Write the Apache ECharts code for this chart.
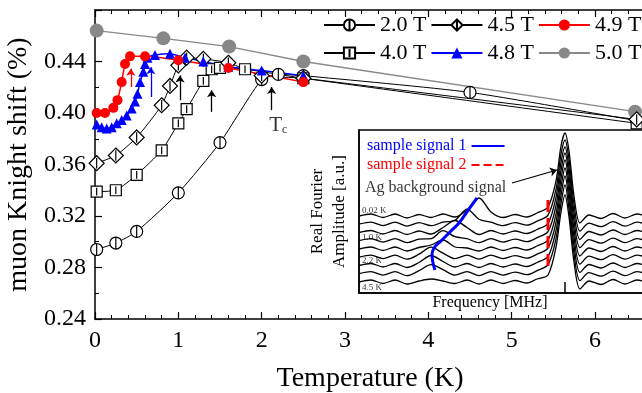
<!DOCTYPE html>
<html>
<head>
<meta charset="utf-8">
<script src="https://cdn.jsdelivr.net/npm/echarts@6.0.0/dist/echarts.min.js"></script>
<style>
  html, body { margin: 0; padding: 0; background: #fff; }
  #chart { width: 642px; height: 393px; }
</style>
</head>
<body>
<div id="chart"></div>
<script>
// main panel: muon Knight shift (%) vs temperature (K)
const t20 = [0.02, 0.25, 0.5, 1.0, 1.5, 2.0, 2.2, 2.5, 4.5, 6.5];
const k20 = [0.294, 0.299, 0.308, 0.338, 0.377, 0.426, 0.430, 0.429, 0.416, 0.394];
const t40 = [0.02, 0.25, 0.5, 0.8, 1.0, 1.1, 1.3, 1.4, 1.5, 1.8, 2.5, 6.5];
const k40 = [0.339, 0.340, 0.352, 0.371, 0.392, 0.403, 0.425, 0.434, 0.435, 0.434, 0.427, 0.392];
const t45 = [0.02, 0.25, 0.5, 0.8, 0.9, 1.0, 1.1, 1.3, 1.6, 2.0, 2.5, 6.5];
const k45 = [0.361, 0.367, 0.381, 0.406, 0.421, 0.437, 0.443, 0.442, 0.439, 0.429, 0.427, 0.395];
const t48 = [0.02, 0.08, 0.14, 0.2, 0.26, 0.32, 0.38, 0.44, 0.48, 0.51, 0.54, 0.58, 0.6, 0.63, 0.72, 0.9, 1.08, 1.3, 1.6, 2.0, 2.5];
const k48 = [0.391, 0.389, 0.388, 0.389, 0.392, 0.3945, 0.398, 0.4035, 0.409, 0.415, 0.424, 0.432, 0.438, 0.443, 0.445, 0.446, 0.443, 0.440, 0.436, 0.433, 0.429];
const t49 = [0.02, 0.12, 0.22, 0.27, 0.32, 0.36, 0.42, 0.6, 1.0, 1.6, 2.5];
const k49 = [0.400, 0.400, 0.404, 0.410, 0.424, 0.438, 0.444, 0.444, 0.441, 0.435, 0.424];
const t50 = [0.02, 0.82, 1.61, 2.5, 6.48];
const k50 = [0.464, 0.458, 0.4516, 0.440, 0.401];

// arrows marking transitions
const arrowT = [0.43, 0.67, 1.02, 1.40, 2.12];
const arrowFrom = [0.4202, 0.4124, 0.4099, 0.4009, 0.4022];
const arrowTo = [0.4344, 0.4356, 0.4292, 0.4176, 0.4202];
const arrowColors = ['#ff0000', '#0000ff', '#000', '#000', '#000'];

// inset: stacked Fourier spectra (frequency in arbitrary units, amplitude a.u.)
const freqGrid = [0, 1.2, 2.4, 3.6, 4.8, 6, 7.2, 8.4, 9.6, 10.8, 12, 13.2, 14.4, 15.6, 16.8, 17.8, 18.9, 19.7, 20.2, 20.6, 21, 21.5, 22.1, 23, 24.2, 25.4, 26.6, 27.8, 29];
const spec0 = [77, 79, 75.5, 79, 75, 78.5, 75.5, 79, 76, 83, 95, 81, 75.5, 78.5, 76, 80, 86, 112, 147, 160, 142, 97, 70, 78, 74.5, 79.5, 75, 79, 76];
const spec1 = [68.8, 70.8, 67.3, 70.8, 66.8, 70.3, 67.3, 70.8, 72.8, 83.8, 73.8, 70.8, 67.3, 70.3, 67.8, 71.8, 77.8, 103.8, 138.8, 153, 133.8, 88.8, 61.8, 69.8, 66.3, 71.3, 66.8, 70.8, 67.8];
const spec2 = [60.5, 62.5, 59, 62.5, 58.5, 62, 59, 65.5, 72.5, 65.5, 58.5, 62.5, 59, 62, 59.5, 63.5, 69.5, 95.5, 130.5, 146, 125.5, 80.5, 53.5, 61.5, 58, 63, 58.5, 62.5, 59.5];
const spec3 = [52.3, 54.3, 50.8, 54.3, 50.3, 53.8, 54.3, 62.3, 56.3, 54.3, 50.3, 54.3, 50.8, 53.8, 51.3, 55.3, 61.3, 87.3, 122.3, 140, 117.3, 72.3, 45.3, 53.3, 49.8, 54.8, 50.3, 54.3, 51.3];
const spec4 = [44, 46, 42.5, 46, 42, 45.5, 48, 53, 46, 45, 42, 46, 42.5, 45.5, 43, 47, 53, 79, 114, 133, 109, 64, 37, 45, 41.5, 46.5, 42, 46, 43];
const spec5 = [35.8, 37.8, 34.3, 37.8, 33.8, 38.8, 45.8, 39.8, 34.3, 37.8, 33.8, 37.8, 34.3, 37.3, 34.8, 38.8, 44.8, 70.8, 105.8, 125, 100.8, 55.8, 28.8, 36.8, 33.3, 38.3, 33.8, 37.8, 34.8];
const spec6 = [27.5, 29.5, 26, 29.5, 25.5, 30.5, 37.5, 31.5, 26, 29.5, 25.5, 29.5, 26, 29, 26.5, 30.5, 36.5, 62.5, 97.5, 117, 92.5, 47.5, 20.5, 28.5, 25, 30, 25.5, 29.5, 26.5];
const spec7 = [19.3, 21.3, 17.8, 21.3, 17.3, 22.3, 28.3, 23.3, 17.8, 21.3, 17.3, 21.3, 17.8, 20.8, 18.3, 22.3, 28.3, 54.3, 89.3, 108, 84.3, 39.3, 12.3, 20.3, 16.8, 21.8, 17.3, 21.3, 18.3];
const spec8 = [11, 13, 9.5, 13, 9, 12, 14, 12, 9.5, 13, 9, 13, 9.5, 12.5, 10, 14, 18, 46, 81, 98, 76, 31, 4, 12, 8.5, 13.5, 9, 13, 10];
const spectra = [spec0, spec1, spec2, spec3, spec4, spec5, spec6, spec7, spec8];

const signal1 = [[11.8, 95], [11.0, 84], [10.0, 70], [9.2, 62], [8.2, 52], [7.5, 45], [7.3, 38], [7.4, 30], [7.6, 23]];
const signal2 = [[18.9, 93], [18.9, 58], [18.9, 23]];
const specLabels = [[0.3, 82, '0.02 K'], [0.3, 55, '1.0 K'], [0.3, 32, '2.2 K'], [0.3, 5, '4.5 K']];

const FONT = 'Liberation Serif';
const zip = (a, b) => a.map((v, i) => [v, b[i]]);

const circleSym = 'path://M0,10A10,10,0,1,1,20,10A10,10,0,1,1,0,10Z M10,1L10,19';
const squareSym = 'path://M0,0L20,0L20,20L0,20Z M10,3L10,17';
const diamondSym = 'path://M10,0L20,10L10,20L0,10Z M10,3L10,17';

const chart = echarts.init(document.getElementById('chart'));

function openSeries(name, data, symbol, size) {
  return {
    name, type: 'line', data, symbol, symbolSize: size, smooth: 0.2,
    xAxisIndex: 0, yAxisIndex: 0,
    lineStyle: { color: '#000', width: 1 },
    itemStyle: { color: '#fff', borderColor: '#000', borderWidth: 1.2 }
  };
}

const specSeries = spectra.map((s, i) => ({
  name: 'spec' + i, type: 'line', xAxisIndex: 1, yAxisIndex: 1,
  data: zip(freqGrid, s), symbol: 'none', smooth: 0.3,
  lineStyle: { color: '#000', width: 1.3 }, z: 3
}));

const legendText = { fontFamily: FONT, fontSize: 22, color: '#000' };

const option = {
  animation: false,
  grid: [
    { left: 95, top: 10, width: 550, height: 309, outerBoundsMode: 'none' },
    { left: 359, top: 130, width: 300, height: 163, show: true, backgroundColor: '#fff',
      borderColor: '#000', borderWidth: 1.5, outerBoundsMode: 'none' }
  ],
  legend: [
    { data: ['2.0 T', '4.5 T', '4.9 T'], left: 323, top: 14, padding: 0, itemWidth: 51, itemHeight: 14,
      itemGap: 4, textStyle: legendText, selectedMode: false },
    { data: ['4.0 T', '4.8 T', '5.0 T'], left: 323, top: 42, padding: 0, itemWidth: 51, itemHeight: 14,
      itemGap: 4, textStyle: legendText, selectedMode: false },
    { data: [
        { name: 'sample signal 1', textStyle: { color: '#0000ff' } },
        { name: 'sample signal 2', textStyle: { color: '#ff0000' } }
      ],
      orient: 'vertical', left: 362, top: 133, align: 'right', itemWidth: 33, itemHeight: 10,
      itemGap: 3, itemStyle: { opacity: 0 }, selectedMode: false, z: 10,
      textStyle: { fontFamily: FONT, fontSize: 16 } }
  ],
  xAxis: [
    { type: 'value', gridIndex: 0, min: 0, max: 6.6, interval: 1,
      name: 'Temperature (K)', nameLocation: 'middle', nameGap: 46,
      nameTextStyle: { fontFamily: FONT, fontSize: 28, color: '#000' },
      axisLine: { lineStyle: { color: '#000', width: 1.5 } },
      axisTick: { inside: true, length: 7, lineStyle: { color: '#000', width: 1.2 } },
      minorTick: { show: true, splitNumber: 5, length: 4, lineStyle: { color: '#000', width: 1 } },
      axisLabel: { fontFamily: FONT, fontSize: 24, color: '#000', margin: 10, showMaxLabel: false },
      splitLine: { show: false } },
    { type: 'value', gridIndex: 1, min: 0, max: 30,
      name: 'Frequency [MHz]', nameLocation: 'middle', nameGap: 2,
      nameTextStyle: { fontFamily: FONT, fontSize: 16, color: '#000', padding: [0, 38, 0, 0] },
      axisLine: { show: true, lineStyle: { color: '#000', width: 1.5 } },
      axisTick: { show: true, inside: true, length: 11, customValues: [20.6], lineStyle: { color: '#000', width: 1.5 } },
      axisLabel: { show: false }, splitLine: { show: false } },
    { type: 'value', gridIndex: 0, min: 0, max: 6.6, interval: 1, position: 'top',
      axisLine: { lineStyle: { color: '#000', width: 1.5 } },
      axisTick: { inside: true, length: 7, lineStyle: { color: '#000', width: 1.2 } },
      minorTick: { show: true, splitNumber: 5, length: 4, lineStyle: { color: '#000', width: 1 } },
      axisLabel: { show: false }, splitLine: { show: false } }
  ],
  yAxis: [
    { type: 'value', gridIndex: 0, min: 0.24, max: 0.48, interval: 0.04,
      name: 'muon Knight shift (%)', nameLocation: 'middle', nameGap: 53,
      nameTextStyle: { fontFamily: FONT, fontSize: 28, color: '#000' },
      axisLine: { show: true, lineStyle: { color: '#000', width: 1.5 } },
      axisTick: { show: true, inside: true, length: 7, lineStyle: { color: '#000', width: 1.2 } },
      minorTick: { show: true, splitNumber: 2, length: 4, lineStyle: { color: '#000', width: 1 } },
      axisLabel: { fontFamily: FONT, fontSize: 24, color: '#000', margin: 9, showMaxLabel: false,
        formatter: v => v.toFixed(2) },
      splitLine: { show: false } },
    { type: 'value', gridIndex: 1, min: 0, max: 163,
      name: 'Real Fourier\nAmplitude [a.u.]', nameLocation: 'middle', nameGap: 8,
      nameTextStyle: { fontFamily: FONT, fontSize: 17, color: '#000', lineHeight: 22 },
      axisLine: { show: true, lineStyle: { color: '#000', width: 1.5 } },
      axisTick: { show: false }, axisLabel: { show: false }, splitLine: { show: false } }
  ],
  series: [
    { name: '5.0 T', type: 'line', data: zip(t50, k50), symbol: 'circle', symbolSize: 14,
      xAxisIndex: 0, yAxisIndex: 0,
      lineStyle: { color: '#888', width: 1.3 }, itemStyle: { color: '#888' } },
    openSeries('2.0 T', zip(t20, k20), circleSym, 12),
    openSeries('4.0 T', zip(t40, k40), squareSym, 11),
    openSeries('4.5 T', zip(t45, k45), diamondSym, 15),
    { name: '4.8 T', type: 'line', data: zip(t48, k48), symbol: 'triangle', symbolSize: 10, smooth: 0.2,
      xAxisIndex: 0, yAxisIndex: 0,
      lineStyle: { color: '#0000ff', width: 1.5 }, itemStyle: { color: '#0000ff' } },
    { name: '4.9 T', type: 'line', data: zip(t49, k49), symbol: 'circle', symbolSize: 10, smooth: 0.2,
      xAxisIndex: 0, yAxisIndex: 0,
      lineStyle: { color: '#ff0000', width: 1.5 }, itemStyle: { color: '#ff0000' } },
    { name: 'arrows', type: 'line', data: [], xAxisIndex: 0, yAxisIndex: 0,
      markLine: { silent: true, symbol: ['none', 'arrow'], symbolSize: 7, label: { show: false },
        data: arrowT.map((t, i) => [
          { coord: [t, arrowFrom[i]], lineStyle: { color: arrowColors[i], width: 1.3, type: 'solid' } },
          { coord: [t, arrowTo[i]] }
        ]) } },
    { name: 'Tc', type: 'scatter', xAxisIndex: 0, yAxisIndex: 0, data: [[2.2, 0.3905]], symbolSize: 0,
      label: { show: true, position: 'inside', formatter: '{t|T}{c|c}',
        rich: { t: { fontFamily: FONT, fontSize: 21, color: '#000', lineHeight: 22 },
                c: { fontFamily: FONT, fontSize: 12, color: '#000', lineHeight: 12, verticalAlign: 'bottom' } } } },
    ...specSeries,
    { name: 'sample signal 1', type: 'line', xAxisIndex: 1, yAxisIndex: 1, data: signal1,
      symbol: 'none', smooth: 0.4, z: 8,
      lineStyle: { color: '#0000ff', width: 3 }, itemStyle: { color: '#0000ff' } },
    { name: 'sample signal 2', type: 'line', xAxisIndex: 1, yAxisIndex: 1, data: signal2,
      symbol: 'none', z: 8, clip: false,
      lineStyle: { color: '#ff0000', width: 3, type: 'dashed' }, itemStyle: { color: '#ff0000' } },
    { name: 'specLabels', type: 'scatter', xAxisIndex: 1, yAxisIndex: 1, data: specLabels,
      symbolSize: 0, z: 9,
      label: { show: true, position: 'right', distance: 0, formatter: p => p.data[2],
        fontFamily: FONT, fontSize: 9, color: '#000' } },
    { name: 'agNote', type: 'scatter', xAxisIndex: 1, yAxisIndex: 1, data: [[0.6, 105]],
      symbolSize: 0, z: 9,
      label: { show: true, position: 'right', distance: 0, formatter: 'Ag background signal',
        fontFamily: FONT, fontSize: 16, color: '#000' },
      markLine: { silent: true, symbol: ['none', 'arrow'], symbolSize: 7, label: { show: false },
        lineStyle: { color: '#000', width: 1.3, type: 'solid' },
        data: [[{ coord: [15.3, 110] }, { coord: [19.8, 123] }]] } }
  ]
};

chart.setOption(option);
</script>
</body>
</html>
